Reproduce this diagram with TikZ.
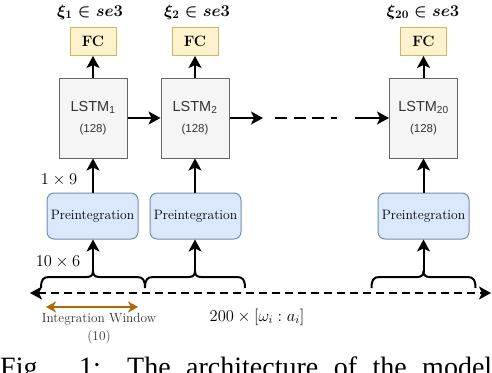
\RequirePackage{fix-cm}
\documentclass[tikz,border=0pt]{standalone}
\usepackage{fontspec}
\newfontfamily\lsans{Liberation Sans}
\newfontfamily\tms{Liberation Serif}
\usetikzlibrary{arrows.meta}
\definecolor{lstmfill}{HTML}{F5F5F5}
\definecolor{lstmdraw}{HTML}{666666}
\definecolor{fcfill}{HTML}{FFF2CC}
\definecolor{fcdraw}{HTML}{D6B656}
\definecolor{prefill}{HTML}{DAE8FC}
\definecolor{predraw}{HTML}{6C8EBF}
\definecolor{winorange}{HTML}{B46504}
\definecolor{txtgray}{HTML}{333333}
\begin{document}
\begin{tikzpicture}[x=1pt,y=-1pt,
 fcbox/.style={draw=fcdraw, fill=fcfill, line width=1pt, minimum width=46pt, minimum height=28pt, inner sep=0pt, font=\fontsize{15}{17}\selectfont\bfseries},
 lstmbox/.style={draw=lstmdraw, fill=lstmfill, line width=1pt, minimum width=68pt, minimum height=80pt, inner sep=0pt, text=txtgray, align=center, font=\lsans\fontsize{14.5}{16}\selectfont},
 prebox/.style={draw=predraw, fill=prefill, line width=1pt, rounded corners=7pt, minimum width=91pt, minimum height=46pt, inner sep=0pt, font=\fontsize{13.6}{15}\selectfont},
 titletext/.style={inner sep=0pt, font=\fontsize{16.5}{18}\selectfont\boldmath},
 dimtext/.style={inner sep=0pt, font=\fontsize{16.5}{18}\selectfont},
 conn/.style={line width=2pt, -{Stealth[length=12pt,width=13pt,inset=3pt]}},
 bracestyle/.style={line width=2pt, line join=round},
 axisline/.style={line width=2pt, dash pattern=on 8pt off 5pt, {Stealth[length=12pt,width=13pt,inset=3pt]}-{Stealth[length=12pt,width=13pt,inset=3pt]}},
 winarrow/.style={line width=2.5pt, draw=winorange, {Stealth[length=10pt,width=11pt,inset=3pt]}-{Stealth[length=10pt,width=11pt,inset=3pt]}},
]
\useasboundingbox (0,0) rectangle (492,372);
\begin{scope}
\clip (0,0) rectangle (492,372);
% titles
\node[titletext] (t1) at (90,12) {$\xi_{1}\in se3$};
\node[titletext] (t2) at (197,12) {$\xi_{2}\in se3$};
\node[titletext] (t3) at (423,12) {$\xi_{20}\in se3$};
% FC boxes
\node[fcbox] (fc1) at (93,41.5) {FC};
\node[fcbox] (fc2) at (195,41.5) {FC};
\node[fcbox] (fc3) at (423.5,41.5) {FC};
% LSTM boxes
\node[lstmbox] (l1) at (93,118) {LSTM\textsubscript{1}\\[5pt]{\fontsize{11.5}{12}\selectfont (128)}};
\node[lstmbox] (l2) at (195,118) {LSTM\textsubscript{2}\\[5pt]{\fontsize{11.5}{12}\selectfont (128)}};
\node[lstmbox] (l3) at (423.5,118) {LSTM\textsubscript{20}\\[5pt]{\fontsize{11.5}{12}\selectfont (128)}};
% Preintegration boxes
\node[prebox] (p1) at (92.5,216) {Preintegration};
\node[prebox] (p2) at (195.5,216) {Preintegration};
\node[prebox] (p3) at (423.5,216) {Preintegration};
% LSTM -> FC
\draw[conn] (l1) -- (fc1);
\draw[conn] (l2) -- (fc2);
\draw[conn] (l3) -- (fc3);
% Preint -> LSTM
\draw[conn] (p1.north -| l1) -- (l1);
\draw[conn] (p2.north -| l2) -- (l2);
\draw[conn] (p3.north -| l3) -- (l3);
% horizontal chain
\coordinate (h1) at (263,118);
\coordinate (d1) at (275,118);
\coordinate (d2) at (337,118);
\coordinate (h2) at (355,118);
\draw[conn] (l1) -- (l2);
\draw[conn] (l2) -- (h1);
\draw[line width=2pt, dash pattern=on 12pt off 6.5pt] (d1) -- (d2);
\draw[conn] (h2) -- (l3);
% braces
\draw[bracestyle] (41,288) .. controls (41,280) and (43,277) .. (49,277) -- (87,277) .. controls (91,277) and (93,275) .. (93,271) .. controls (93,275) and (95,277) .. (99,277) -- (137,277) .. controls (143,277) and (145,280) .. (145,288);
\draw[bracestyle] (145,288) .. controls (145,280) and (147,277) .. (153,277) -- (189,277) .. controls (193,277) and (195,275) .. (195,271) .. controls (195,275) and (197,277) .. (201,277) -- (237,277) .. controls (243,277) and (245,280) .. (245,288);
\draw[bracestyle] (371.5,288) .. controls (371.5,280) and (373.5,277) .. (379.5,277) -- (417.5,277) .. controls (421.5,277) and (423.5,275) .. (423.5,271) .. controls (423.5,275) and (425.5,277) .. (429.5,277) -- (467.5,277) .. controls (473.5,277) and (475.5,280) .. (475.5,288);
\coordinate (b1) at (93,272);
\coordinate (b2) at (195,272);
\coordinate (b3) at (423.5,272);
\draw[conn] (b1) -- (b1 |- p1.south);
\draw[conn] (b2) -- (b2 |- p2.south);
\draw[conn] (b3) -- (b3 |- p3.south);
% labels
\node[dimtext] (lab19) at (59,180) {$1\times 9$};
\node[dimtext] (lab106) at (58,262) {$10\times 6$};
% time axis
\coordinate (al) at (30,293);
\coordinate (ar) at (491,293);
\draw[axisline] (al) -- (ar);
\node[dimtext] (lab200) at (257,317) {$200\times[\omega_i : a_i]$};
% integration window
\coordinate (wl) at (46,307);
\coordinate (wr) at (138,307);
\draw[winarrow] (wl) -- (wr);
\node[inner sep=0pt, align=center, text=txtgray, font=\fontsize{13.3}{18}\selectfont] (win) at (99,329) {Integration Window\\(10)};
% caption (cut off at the bottom of the figure, as in the reference)
\node[anchor=base west, inner sep=0pt] (cap) at (0,376) {\tms\fontsize{28}{28}\selectfont\makebox[492pt][s]{Fig. 1: The architecture of the model}};
\end{scope}
\end{tikzpicture}
\end{document}
